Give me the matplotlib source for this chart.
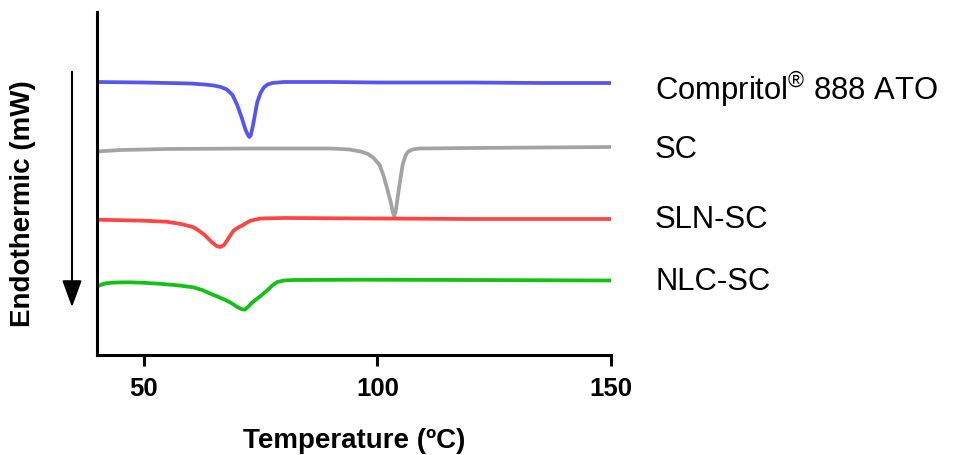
import matplotlib
matplotlib.use("Agg")
import matplotlib.pyplot as plt

plt.rcParams['font.family'] = ['Liberation Sans', 'DejaVu Sans']
plt.rcParams['mathtext.fontset'] = 'custom'
plt.rcParams['mathtext.rm'] = 'Liberation Sans'

# DSC thermograms (offset arbitrary units)
blue_t = [40, 50, 60, 63, 65, 66.5, 67.8, 69, 70, 71, 71.8, 72.3, 72.6, 72.9, 73.4,
          74.3, 75, 75.7, 76.5, 77.5, 80, 90, 100, 120, 135, 150]
blue_y = [27.3, 27.25, 27.15, 27.05, 26.95, 26.8, 26.55, 26.0, 25.0, 23.7, 22.5, 22.0,
          21.8, 21.95, 23.0, 25.3, 26.2, 26.75, 27.05, 27.2, 27.3, 27.3, 27.25, 27.25,
          27.2, 27.2]

gray_t = [40, 45, 55, 73, 90, 94, 96.4, 98, 99.2, 100.5, 101.4, 102.3, 102.9, 103.3,
          103.6, 103.9, 104.3, 104.6, 105.4, 106, 106.5, 107.5, 109, 120, 135, 150]
gray_y = [20.35, 20.5, 20.6, 20.65, 20.65, 20.55, 20.35, 20.1, 19.7, 19.0, 17.8, 16.3,
          15.2, 14.3, 13.9, 14.3, 15.6, 16.6, 19.0, 19.9, 20.3, 20.55, 20.65, 20.7,
          20.75, 20.8]

red_t = [40, 50, 55, 58, 60.7, 62.8, 64.6, 65.6, 66.4, 67.2, 67.8, 69.2, 70.2, 71,
         72.8, 75, 80, 100, 120, 150]
red_y = [13.53, 13.43, 13.32, 13.1, 12.77, 12.1, 11.27, 10.9, 10.8, 11.0, 11.43, 12.43,
         12.75, 12.93, 13.43, 13.65, 13.7, 13.65, 13.6, 13.6]

green_t = [40, 41, 42, 44, 47, 50, 53.5, 57, 60.6, 62.5, 64.2, 66, 67.8, 69, 70,
           71, 71.6, 72.3, 73.2, 75, 76.4, 77.5, 78.6, 80, 82.1, 96.4, 120, 150]
green_y = [6.85, 7.05, 7.18, 7.25, 7.27, 7.22, 7.12, 6.98, 6.77, 6.5, 6.15, 5.8, 5.43,
           5.12, 4.8, 4.58, 4.53, 4.8, 5.25, 5.9, 6.45, 6.95, 7.3, 7.45, 7.5, 7.53,
           7.5, 7.45]

names = [r'Compritol$^{\mathrm{®}}$ 888 ATO', 'SC', 'SLN-SC', 'NLC-SC']
colors = ['#5555f2', '#a3a3a3', '#ff4242', '#12c212']
xticks = [50, 100, 150]

fig = plt.figure(figsize=(9.54, 4.56), dpi=100)
ax = fig.add_axes([97 / 954, 100 / 456, 514 / 954, 343 / 456])

series = [(blue_t, blue_y), (gray_t, gray_y), (red_t, red_y), (green_t, green_y)]
for (t, y), c in zip(series, colors):
    ax.plot(t, y, color=c, lw=2.7, solid_capstyle='round', solid_joinstyle='round')

ax.set_xlim(40, 150)
ax.set_ylim(0, 34.3)
ax.set_xticks(xticks)
ax.set_yticks([])
for s in ['top', 'right']:
    ax.spines[s].set_visible(False)
for s in ['left', 'bottom']:
    ax.spines[s].set_linewidth(2.2)
ax.tick_params(axis='x', length=8, width=2.2, labelsize=18.5, pad=7)
for lab in ax.get_xticklabels():
    lab.set_fontweight('bold')

ax.set_xlabel('Temperature (ºC)', fontsize=20, fontweight='bold')
ax.xaxis.set_label_coords(0.5, -0.21)
ax.set_ylabel('Endothermic (mW)', fontsize=20, fontweight='bold')
ax.yaxis.set_label_coords(-0.119, 0.445)

# arrow pointing down (endothermic direction)
ax.annotate('', xy=(72 / 954, 1 - 311 / 456), xytext=(72 / 954, 1 - 70 / 456),
            xycoords='figure fraction', textcoords='figure fraction',
            arrowprops=dict(arrowstyle='-|>,head_length=1.1,head_width=0.4',
                            mutation_scale=15, lw=1.5, color='black'))

# curve labels
label_y = [89, 150, 220, 282]
for name, py in zip(names, label_y):
    fig.text(655 / 954, 1 - py / 456, name, fontsize=22.3, va='center', ha='left')

fig.savefig('out.png', dpi=100)
